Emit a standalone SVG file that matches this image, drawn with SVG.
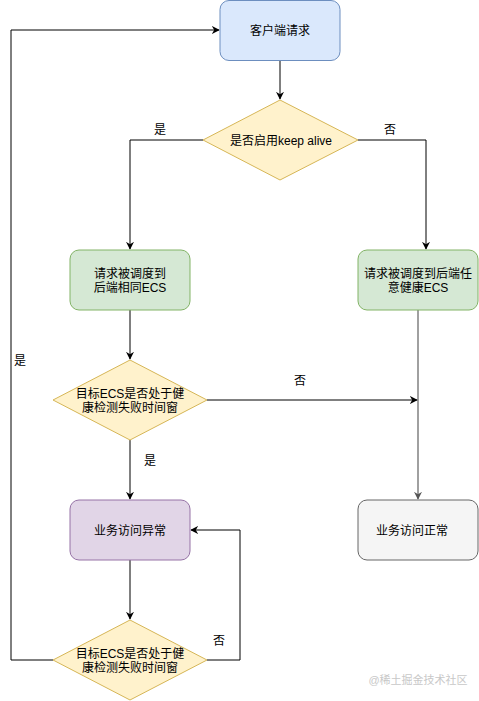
<svg xmlns="http://www.w3.org/2000/svg" width="479" height="701" viewBox="0 0 479 701">
<defs>
<marker id="arr" viewBox="0 0 10 10" refX="9" refY="5" markerWidth="8" markerHeight="8" markerUnits="userSpaceOnUse" orient="auto">
<path d="M0,0 L10,5 L0,10 L3,5 Z" fill="#000"/>
</marker>
<marker id="arrg" viewBox="0 0 10 10" refX="9" refY="5" markerWidth="8" markerHeight="8" markerUnits="userSpaceOnUse" orient="auto">
<path d="M0,0 L10,5 L0,10 L3,5 Z" fill="#555"/>
</marker>
<style>
text{font-family:"Liberation Sans","Noto Sans CJK SC",sans-serif;font-size:12px;fill:#000;text-anchor:middle;dominant-baseline:central}
.blue{fill:#dae8fc;stroke:#6c8ebf}
.green{fill:#d5e8d4;stroke:#82b366}
.yellow{fill:#fff2cc;stroke:#d6b656}
.purple{fill:#e1d5e7;stroke:#9673a6}
.gray{fill:#f5f5f5;stroke:#666666}
.e{fill:none;stroke:#000;stroke-width:1;marker-end:url(#arr)}
.l{fill:none;stroke:#000;stroke-width:1}
</style>
</defs>
<rect width="479" height="701" fill="#fff"/>
<g id="connectors">
<path class="e" d="M280,60 L280,99"/>
<path class="e" d="M203,140 L130,140 L130,249"/>
<path class="e" d="M358,140 L426,140 L426,249"/>
<path class="e" d="M130,310 L130,359"/>
<path fill="none" stroke="#808080" stroke-width="1.5" marker-end="url(#arrg)" d="M418,310 L418,499"/>
<path class="e" d="M207,400 L417,400"/>
<path class="e" d="M130,440 L130,499"/>
<path class="e" d="M130,560 L130,619"/>
<path class="e" d="M207,660 L240,660 L240,530 L191,530"/>
<path class="e" d="M53,660 L11,660 L11,30 L219,30"/>
<text x="160" y="130">是</text>
<text x="390" y="130">否</text>
<text x="300" y="381">否</text>
<text x="150" y="461">是</text>
<text x="219" y="641">否</text>
<text x="20" y="361">是</text>
</g>
<g id="client">
<rect class="blue" x="220" y="0.5" width="120" height="60" rx="9"/>
<text x="280" y="31">客户端请求</text>
</g>
<g id="keepalive">
<path class="yellow" d="M280,100 L358,140 L280,180 L203,140 Z"/>
<text x="281" y="141">是否启用keep alive</text>
</g>
<g id="sameecs">
<rect class="green" x="70" y="250" width="120" height="60" rx="9"/>
<text x="130" y="274">请求被调度到</text>
<text x="130" y="288">后端相同ECS</text>
</g>
<g id="anyecs">
<rect class="green" x="358" y="250" width="120" height="60" rx="9"/>
<text x="418" y="274">请求被调度到后端任</text>
<text x="418" y="288">意健康ECS</text>
</g>
<g id="check1">
<path class="yellow" d="M130,360 L207,400 L130,440 L53,400 Z"/>
<text x="130" y="394">目标ECS是否处于健</text>
<text x="130" y="408">康检测失败时间窗</text>
</g>
<g id="abnormal">
<rect class="purple" x="70" y="500" width="120" height="60" rx="9"/>
<text x="130" y="531">业务访问异常</text>
</g>
<g id="normal">
<rect class="gray" x="358" y="500" width="120" height="60" rx="9"/>
<text x="412" y="531">业务访问正常</text>
</g>
<g id="check2">
<path class="yellow" d="M130,620 L207,660 L130,700 L53,660 Z"/>
<text x="130" y="654">目标ECS是否处于健</text>
<text x="130" y="668">康检测失败时间窗</text>
</g>
<text x="418" y="680" style="fill:#c8c8c8;font-size:11px">@稀土掘金技术社区</text>
</svg>
